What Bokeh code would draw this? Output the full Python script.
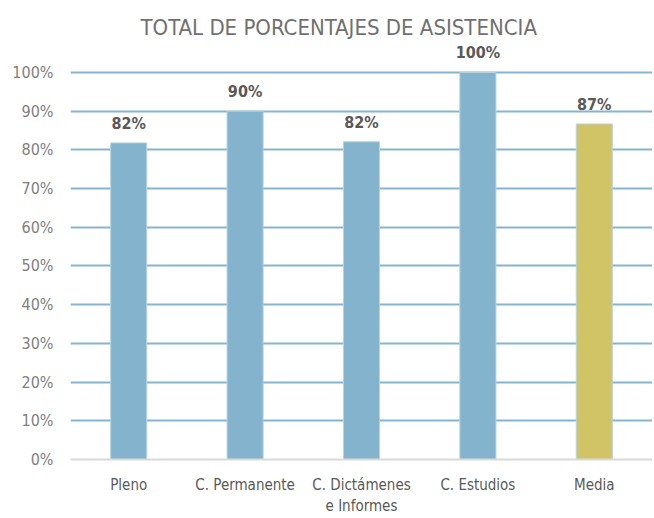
from bokeh.plotting import figure
from bokeh.models import FactorRange, Range1d, FixedTicker, ColumnDataSource, Title
from bokeh.core.properties import value
from bokeh.embed import file_html
from bokeh.resources import INLINE

categories = ["Pleno", "C. Permanente", "C. Dictámenes\ne Informes", "C. Estudios", "Media"]
values = [81.8, 90.0, 82.1, 100.0, 86.7]
labels = ["82%", "90%", "82%", "100%", "87%"]
colors = ["#83b3cd", "#83b3cd", "#83b3cd", "#83b3cd", "#d0c467"]
y_ticks = [0, 10, 20, 30, 40, 50, 60, 70, 80, 90, 100]

FONT = "DejaVu Sans Condensed"

src = ColumnDataSource(dict(x=categories, top=values, label=labels, color=colors))

p = figure(width=652, height=518, output_backend="svg", toolbar_location=None,
           x_range=FactorRange(*categories, range_padding=0.0),
           y_range=Range1d(0, 108),
           min_border_left=70, min_border_right=0, min_border_bottom=55, min_border_top=41)
p.outline_line_color = None
p.background_fill_color = "white"
p.border_fill_color = "white"

p.title = Title(text="TOTAL DE PORCENTAJES DE ASISTENCIA", align="left",
                text_font=FONT, text_font_size="22px", text_font_style="normal",
                text_color="#707070", standoff=4, offset=70)

p.vbar(x="x", top="top", width=0.31, source=src, fill_color="color",
       line_color="#b8d3e2", line_width=1)
p.text(x="x", y="top", text="label", source=src, text_align="center",
       text_baseline="bottom", y_offset=-10, text_font=value(FONT),
       text_font_size="16px", text_font_style="bold", text_color="#595959")

p.yaxis.ticker = FixedTicker(ticks=y_ticks)
p.yaxis.major_label_overrides = {t: f"{t}%" for t in y_ticks}
p.yaxis.axis_line_color = None
p.yaxis.major_tick_line_color = None
p.yaxis.minor_tick_line_color = None
p.yaxis.major_label_text_font = FONT
p.yaxis.major_label_text_font_size = "16px"
p.yaxis.major_label_text_color = "#808080"
p.yaxis.major_label_standoff = 11

p.ygrid.ticker = FixedTicker(ticks=y_ticks[1:])
p.ygrid.grid_line_color = "#86b5cf"
p.ygrid.grid_line_width = 2
p.xgrid.grid_line_color = None

p.xaxis.axis_line_color = "#d9d9d9"
p.xaxis.axis_line_width = 2
p.xaxis.major_tick_line_color = None
p.xaxis.minor_tick_line_color = None
p.xaxis.major_label_text_font = FONT
p.xaxis.major_label_text_font_size = "15px"
p.xaxis.major_label_text_color = "#595959"
p.xaxis.major_label_standoff = 10

open("out.html", "w").write(file_html(p, INLINE))
